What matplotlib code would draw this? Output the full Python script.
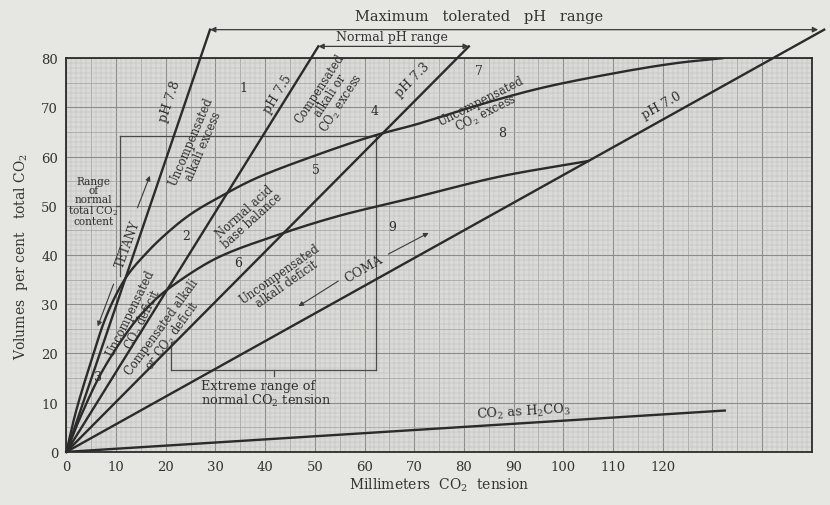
import numpy as np
import matplotlib
matplotlib.use("Agg")
import matplotlib.pyplot as plt

plt.rcParams['font.family'] = ['DejaVu Serif']
plt.rcParams['mathtext.fontset'] = 'dejavuserif'

# ---------------- data ----------------
ph_labels = ["pH 7.8", "pH 7.5", "pH 7.3", "pH 7.0"]
ph_end_x = [28.9, 50.7, 81.0, 152.5]     # mm CO2 where each isohydric line ends (above plot)
ph_end_y = [85.8, 82.4, 82.4, 85.8]      # vol % at that end

# CO2 absorption curves
curveA_x = [0, 2, 5, 8, 11.7, 16, 20.4, 25, 30.5, 38.6, 50, 61.4, 70.9, 83, 95.8, 110, 122, 132]
curveA_y = [0, 8.5, 18.5, 27.5, 35.0, 40.3, 44.6, 48.3, 51.6, 55.8, 60.2, 64.1, 66.7, 70.5, 74.0, 76.9, 78.9, 80]
curveB_x = [0, 3, 7, 12, 16, 21, 30.5, 42.6, 55, 68.9, 87, 105]
curveB_y = [0, 7.5, 16, 24, 29, 33.5, 39.5, 44.1, 48, 51.4, 55.9, 59.1]

# CO2 as H2CO3
h2co3_x = [0, 132.5]
h2co3_y = [0, 8.4]

# normal ranges (brackets)
normal_co2_content = [35.7, 64.1]     # vol %
normal_co2_tension = [21.0, 62.4]     # mm
bracket_left_x = 10.7

x_ticks = [0, 10, 20, 30, 40, 50, 60, 70, 80, 90, 100, 110, 120]
y_ticks = [0, 10, 20, 30, 40, 50, 60, 70, 80]

region_names = ["1", "2", "3", "4", "5", "6", "7", "8", "9"]
region_x = [35.6, 24.0, 6.3, 62.0, 50.3, 34.5, 83.0, 87.7, 65.5]
region_y = [74.1, 43.9, 15.3, 69.4, 57.4, 38.4, 77.5, 65.0, 45.9]

# ---------------- style ----------------
ink = '#2b2b2b'
paper = '#e6e6e3'
inner = '#dadad7'

fig = plt.figure(figsize=(8.3, 5.06), dpi=100, facecolor=paper)
ax = fig.add_axes([0.08, 0.105, 0.898, 0.778])
ax.set_facecolor(inner)
ax.set_xlim(0, 150)
ax.set_ylim(0, 80)

# graph-paper grid
def gstyle(v):
    if v % 10 == 0:
        return '#8c8c8a', 0.8
    if v % 5 == 0:
        return '#a4a4a2', 0.55
    return '#bdbdbb', 0.35

for v in np.arange(0, 151, 1):
    c, w = gstyle(v)
    ax.axvline(v, color=c, lw=w, zorder=0)
for v in np.arange(0, 81, 1):
    c, w = gstyle(v)
    ax.axhline(v, color=c, lw=w, zorder=0)

for s in ax.spines.values():
    s.set_color(ink)
    s.set_linewidth(1.3)

ax.set_xticks(x_ticks)
ax.set_yticks(y_ticks)
ax.tick_params(length=0, labelsize=9.5, colors='#333333', pad=6)
ax.set_xlabel("Millimeters  CO$_2$  tension", fontsize=10, color='#333333', labelpad=2)
ax.set_ylabel("Volumes  per cent   total CO$_2$", fontsize=10, color='#333333', labelpad=8)


def disp_angle(dx, dy):
    p0 = ax.transData.transform((0, 0))
    p1 = ax.transData.transform((dx, dy))
    return np.degrees(np.arctan2(p1[1] - p0[1], p1[0] - p0[0]))


def smooth(xs, ys, n=12):
    """Catmull-Rom rendering through the read points."""
    P = np.column_stack([xs, ys]).astype(float)
    P = np.vstack([2 * P[0] - P[1], P, 2 * P[-1] - P[-2]])
    out = []
    t = np.linspace(0, 1, n, endpoint=False)[:, None]
    for i in range(1, len(P) - 2):
        p0, p1, p2, p3 = P[i - 1], P[i], P[i + 1], P[i + 2]
        seg = 0.5 * ((2 * p1) + (-p0 + p2) * t + (2 * p0 - 5 * p1 + 4 * p2 - p3) * t ** 2
                     + (-p0 + 3 * p1 - 3 * p2 + p3) * t ** 3)
        out.append(seg)
    out.append(P[-2][None, :])
    out = np.vstack(out)
    return out[:, 0], out[:, 1]


# pH lines
for ex, ey in zip(ph_end_x, ph_end_y):
    ax.plot([0, ex], [0, ey], color=ink, lw=1.7, clip_on=False, zorder=3)

ax.plot(*smooth(curveA_x, curveA_y), color=ink, lw=1.7, zorder=3)
ax.plot(*smooth(curveB_x, curveB_y), color=ink, lw=1.7, zorder=3)
ax.plot(h2co3_x, h2co3_y, color=ink, lw=1.7, zorder=3)

# brackets
tk = dict(color='#4a4a4a', lw=0.9, zorder=2)
ax.plot([bracket_left_x, normal_co2_tension[1]], [normal_co2_content[1]] * 2, **tk)
ax.plot([normal_co2_tension[1]] * 2, [normal_co2_content[1], 16.7], **tk)
ax.plot([normal_co2_tension[0], normal_co2_tension[1]], [16.7, 16.7], **tk)
ax.plot([normal_co2_tension[0]] * 2, [16.7, 22.4], **tk)
ax.plot([bracket_left_x] * 2, [normal_co2_content[0], normal_co2_content[1]], **tk)
midc = sum(normal_co2_content) / 2
ax.plot([bracket_left_x, bracket_left_x - 0.8], [midc, midc], **tk)
midt = sum(normal_co2_tension) / 2
ax.plot([midt, midt], [16.7, 15.4], **tk)

# range arrows above the chart
arr = dict(arrowstyle='<|-|>', lw=0.9, color='#3a3a3a', mutation_scale=8, shrinkA=0, shrinkB=0)
ax.annotate('', xy=(ph_end_x[0], ph_end_y[0]), xytext=(ph_end_x[3] - 1.2, ph_end_y[3]),
            arrowprops=arr, annotation_clip=False)
ax.annotate('', xy=(ph_end_x[1], ph_end_y[1]), xytext=(ph_end_x[2], ph_end_y[2]),
            arrowprops=arr, annotation_clip=False)
ax.text(83, 88.6, "Maximum   tolerated   pH   range", fontsize=10.5, color='#333333',
        ha='center', va='center', clip_on=False)
ax.text(65.5, 84.5, "Normal pH range", fontsize=9, color='#333333',
        ha='center', va='center', clip_on=False)

# pH labels
lab = dict(fontsize=9, color='#2f2f2f', ha='center', va='center', zorder=4)
a78 = disp_angle(ph_end_x[0], ph_end_y[0])
a75 = disp_angle(ph_end_x[1], ph_end_y[1])
a73 = disp_angle(ph_end_x[2], ph_end_y[2])
a70 = disp_angle(ph_end_x[3], ph_end_y[3])
ax.text(20.8, 71.4, ph_labels[0], rotation=a78, **lab)
ax.text(42.6, 72.9, ph_labels[1], rotation=a75, **lab)
ax.text(69.6, 75.8, ph_labels[2], rotation=a73, **lab)
ax.text(119.8, 70.6, ph_labels[3], rotation=a70, **lab)

small = dict(fontsize=8.3, color='#2f2f2f', ha='center', va='center', zorder=4, linespacing=0.95)
ax.text(26.3, 62.7, "Uncompensated\nalkali excess", rotation=67, **small)
ax.text(53.3, 72.4, "Compensated\nalkali or\nCO$_2$ excess", rotation=57, **small)
ax.text(84.0, 70.0, "Uncompensated\nCO$_2$ excess", rotation=27, **small)
ax.text(36.6, 48.0, "Normal acid\nbase balance", rotation=42, **small)
ax.text(14.3, 27.6, "Uncompensated\nCO$_2$ deficit", rotation=64, **small)
ax.text(20.4, 24.5, "Compensated alkali\nor CO$_2$ deficit", rotation=54, **small)
ax.text(43.6, 35.3, "Uncompensated\nalkali deficit", rotation=35, **small)
ax.text(12.3, 42.4, "TETANY", rotation=70, fontsize=8.3, color='#2f2f2f', ha='center', va='center')
ax.text(59.8, 37.3, "COMA", rotation=30, fontsize=9, color='#2f2f2f', ha='center', va='center')
ax.text(5.4, 51.0, "Range\nof\nnormal\ntotal CO$_2$\ncontent", fontsize=7.6, color='#2f2f2f',
        ha='center', va='center', linespacing=0.9)
ax.text(27.0, 11.8, "Extreme range of\nnormal CO$_2$ tension", fontsize=9.3, color='#2f2f2f',
        ha='left', va='center', linespacing=1.0)
ax.text(92.0, 8.2, "CO$_2$ as H$_2$CO$_3$", rotation=3.5, fontsize=9.3, color='#2f2f2f',
        ha='center', va='center')

for n, rx, ry in zip(region_names, region_x, region_y):
    ax.text(rx, ry, n, fontsize=9, color='#2f2f2f', ha='center', va='center')

# tetany / coma arrows
sarr = dict(arrowstyle='-|>', lw=0.8, color='#3a3a3a', mutation_scale=7, shrinkA=0, shrinkB=0)
ax.annotate('', xy=(16.8, 56.1), xytext=(14.3, 49.6), arrowprops=sarr)
ax.annotate('', xy=(6.3, 25.5), xytext=(9.5, 34.1), arrowprops=sarr)
ax.annotate('', xy=(72.9, 44.5), xytext=(64.8, 40.2), arrowprops=sarr)
ax.annotate('', xy=(46.7, 29.6), xytext=(54.7, 34.7), arrowprops=sarr)

fig.savefig("out.png", dpi=100, facecolor=paper)
